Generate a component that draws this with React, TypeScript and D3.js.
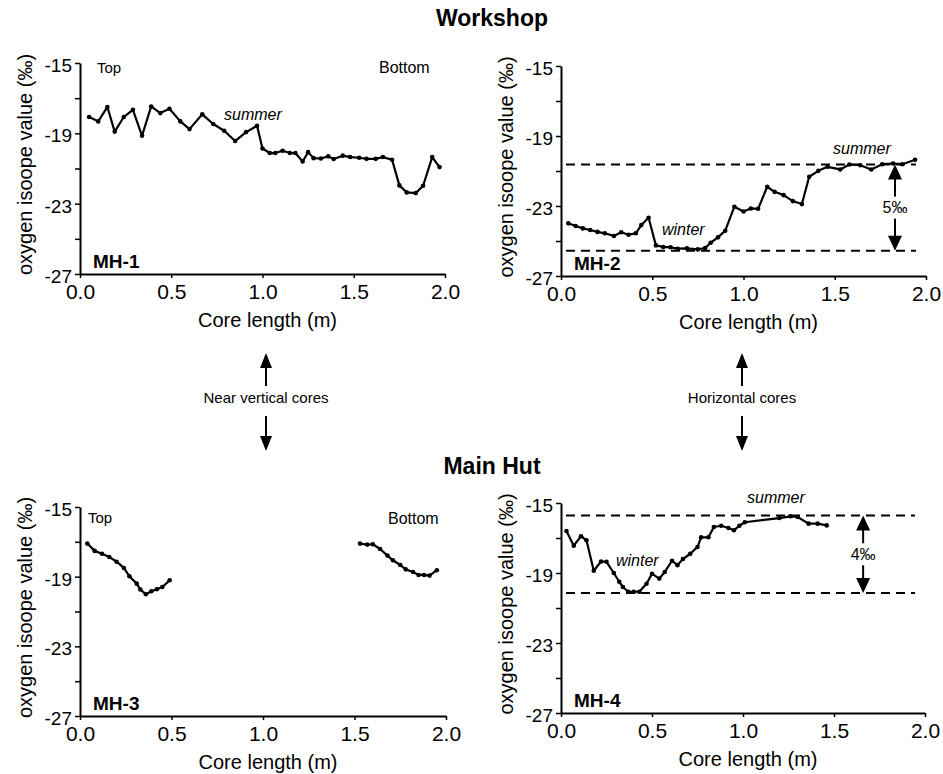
import React, { useEffect, useRef } from 'react';
import * as d3 from 'd3';

const mh1Depth = [0.05, 0.10, 0.15, 0.19, 0.24, 0.29, 0.34, 0.39, 0.44, 0.49, 0.55, 0.60, 0.67, 0.73, 0.79, 0.85, 0.91, 0.97, 1.00, 1.04, 1.07, 1.11, 1.15, 1.18, 1.22, 1.25, 1.28, 1.32, 1.36, 1.39, 1.44, 1.48, 1.53, 1.57, 1.62, 1.66, 1.71, 1.75, 1.79, 1.84, 1.88, 1.93, 1.97];
const mh1Value = [-18.07, -18.32, -17.5, -18.9, -18.07, -17.66, -19.14, -17.47, -17.85, -17.6, -18.32, -18.76, -17.92, -18.47, -18.85, -19.44, -18.93, -18.57, -19.86, -20.12, -20.12, -19.99, -20.12, -20.12, -20.6, -20.07, -20.41, -20.43, -20.31, -20.46, -20.27, -20.35, -20.39, -20.45, -20.45, -20.35, -20.5, -21.96, -22.36, -22.4, -21.98, -20.35, -20.92];

const mh2Depth = [0.04, 0.08, 0.12, 0.16, 0.20, 0.24, 0.29, 0.33, 0.37, 0.41, 0.44, 0.48, 0.52, 0.56, 0.60, 0.64, 0.69, 0.75, 0.79, 0.82, 0.86, 0.90, 0.95, 1.00, 1.04, 1.08, 1.13, 1.17, 1.22, 1.27, 1.32, 1.36, 1.41, 1.46, 1.53, 1.58, 1.64, 1.70, 1.76, 1.82, 1.87, 1.94];
const mh2Value = [-23.99, -24.14, -24.28, -24.37, -24.48, -24.56, -24.71, -24.5, -24.64, -24.56, -24.09, -23.67, -25.25, -25.34, -25.36, -25.44, -25.42, -25.48, -25.4, -25.1, -24.79, -24.41, -23.04, -23.31, -23.14, -23.16, -21.9, -22.19, -22.38, -22.72, -22.89, -21.33, -20.99, -20.76, -20.91, -20.63, -20.67, -20.91, -20.61, -20.57, -20.61, -20.36];

const mh3TopDepth = [0.04, 0.08, 0.12, 0.16, 0.20, 0.24, 0.27, 0.31, 0.33, 0.36, 0.39, 0.42, 0.45, 0.49];
const mh3TopValue = [-17.1, -17.52, -17.68, -17.87, -18.14, -18.5, -18.98, -19.4, -19.74, -20.01, -19.84, -19.72, -19.59, -19.21];
const mh3BottomDepth = [1.53, 1.57, 1.60, 1.64, 1.68, 1.71, 1.75, 1.78, 1.82, 1.85, 1.88, 1.91, 1.95];
const mh3BottomValue = [-17.1, -17.16, -17.14, -17.41, -17.79, -18.06, -18.33, -18.58, -18.73, -18.9, -18.9, -18.94, -18.63];

const mh4Depth = [0.03, 0.07, 0.11, 0.14, 0.18, 0.22, 0.25, 0.29, 0.32, 0.34, 0.37, 0.40, 0.43, 0.47, 0.50, 0.54, 0.57, 0.61, 0.64, 0.67, 0.71, 0.75, 0.77, 0.81, 0.84, 0.88, 0.92, 0.95, 0.98, 1.01, 1.20, 1.26, 1.30, 1.36, 1.41, 1.46];
const mh4Value = [-16.6, -17.44, -16.9, -17.13, -18.87, -18.34, -18.36, -19.0, -19.5, -19.8, -20.07, -20.07, -20.07, -19.61, -19.04, -19.32, -18.94, -18.3, -18.55, -18.2, -17.9, -17.51, -16.96, -16.96, -16.37, -16.3, -16.43, -16.56, -16.3, -16.1, -15.86, -15.76, -15.8, -16.18, -16.18, -16.28];

// summer / winter reference levels and where the range arrow sits
const mh2Range = [-20.63, -25.55];
const mh4Range = [-15.72, -20.14];

const yTicks = [-15, -17, -19, -21, -23, -25, -27];
const yLabelled = [-15, -19, -23, -27];
const xTicks = [0, 0.5, 1, 1.5, 2];

const FONT = "'Liberation Sans', Arial, Helvetica, sans-serif";

const App = () => {
  const chart = useRef<SVGSVGElement>(null);

  useEffect(() => {
    const svg = d3.select(chart.current);
    svg.selectAll('*').remove();
    svg.attr('font-family', FONT);

    const zip = (xs: number[], ys: number[]) => xs.map((d, i) => [d, ys[i]] as [number, number]);

    const panels = [
      {
        name: 'MH-1', x0: 80, x1: 445, y0: 63, y1: 274,
        series: [zip(mh1Depth, mh1Value)],
        notes: [
          { t: 'Top', dx: 17, dy: 10, size: 15 },
          { t: 'Bottom', dx: 299, dy: 10, size: 16 },
          { t: 'summer', dx: 144, dy: 57, size: 16, italic: true },
        ],
        range: null as null | { v: number[]; at: number; label: string },
      },
      {
        name: 'MH-2', x0: 561, x1: 926, y0: 66, y1: 276,
        series: [zip(mh2Depth, mh2Value)],
        notes: [
          { t: 'summer', dx: 272, dy: 88, size: 16, italic: true },
          { t: 'winter', dx: 101, dy: 169, size: 16, italic: true },
        ],
        range: { v: mh2Range, at: 1.83, label: '5‰' },
      },
      {
        name: 'MH-3', x0: 80, x1: 446, y0: 507, y1: 716,
        series: [zip(mh3TopDepth, mh3TopValue), zip(mh3BottomDepth, mh3BottomValue)],
        notes: [
          { t: 'Top', dx: 8, dy: 16, size: 15 },
          { t: 'Bottom', dx: 308, dy: 17, size: 16 },
        ],
        range: null,
      },
      {
        name: 'MH-4', x0: 561, x1: 925, y0: 503, y1: 713,
        series: [zip(mh4Depth, mh4Value)],
        notes: [
          { t: 'summer', dx: 186, dy: 0, size: 16, italic: true },
          { t: 'winter', dx: 55, dy: 63, size: 16, italic: true },
        ],
        range: { v: mh4Range, at: 1.66, label: '4‰' },
      },
    ];

    const arrow = (g: any, x: number, from: number, to: number, len = 15, half = 7) => {
      const dir = Math.sign(to - from);
      g.append('line')
        .attr('x1', x).attr('x2', x)
        .attr('y1', from).attr('y2', to - dir * (len - 2))
        .attr('stroke', '#000').attr('stroke-width', 2);
      g.append('path')
        .attr('d', `M${x},${to}L${x - half},${to - dir * len}L${x + half},${to - dir * len}Z`)
        .attr('fill', '#000');
    };

    panels.forEach((p) => {
      const x = d3.scaleLinear().domain([0, 2]).range([p.x0, p.x1]);
      const y = d3.scaleLinear().domain([-27, -15]).range([p.y1, p.y0]);
      const g = svg.append('g');

      // reference lines
      if (p.range) {
        p.range.v.forEach((v) => {
          g.append('line')
            .attr('x1', p.x0 + 5).attr('x2', p.x1 - 10)
            .attr('y1', y(v)).attr('y2', y(v))
            .attr('stroke', '#000').attr('stroke-width', 2)
            .attr('stroke-dasharray', '9,6');
        });
        const ax = x(p.range.at);
        const mid = (y(p.range.v[0]) + y(p.range.v[1])) / 2;
        arrow(g, ax, mid - 11, y(p.range.v[0]));
        arrow(g, ax, mid + 11, y(p.range.v[1]));
        g.append('text')
          .attr('x', ax).attr('y', mid).attr('dy', '0.35em')
          .attr('text-anchor', 'middle').attr('font-size', 16)
          .text(p.range.label);
      }

      // axes
      const ya = g.append('g')
        .attr('transform', `translate(${p.x0},0)`)
        .call(d3.axisLeft(y).tickValues(yTicks).tickSize(5).tickSizeOuter(0).tickPadding(3)
          .tickFormat((d: any) => (yLabelled.includes(d) ? String(d) : '')));
      ya.select('.domain').attr('stroke-width', 2);
      ya.selectAll('line').attr('stroke-width', 1.5);
      ya.selectAll('text').attr('font-size', 19).attr('font-family', FONT).attr('dy', '0.45em');

      const xa = g.append('g')
        .attr('transform', `translate(0,${p.y1})`)
        .call(d3.axisBottom(x).tickValues(xTicks).tickSize(4).tickSizeOuter(0).tickPadding(6)
          .tickFormat(d3.format('.1f')));
      xa.select('.domain').attr('stroke-width', 2);
      xa.selectAll('line').attr('stroke-width', 1.5);
      xa.selectAll('text').attr('font-size', 21).attr('font-family', FONT);

      // axis titles
      g.append('text')
        .attr('transform', `translate(${p.x0 - 48},${(p.y0 + p.y1) / 2 - 4}) rotate(-90)`)
        .attr('text-anchor', 'middle').attr('font-size', 20)
        .text('oxygen isoope value (‰)');
      g.append('text')
        .attr('x', (p.x0 + p.x1) / 2 + 5).attr('y', p.y1 + 53)
        .attr('text-anchor', 'middle').attr('font-size', 20)
        .text('Core length (m)');

      // series
      const line = d3.line<[number, number]>().x((d) => x(d[0])).y((d) => y(d[1]));
      p.series.forEach((s) => {
        g.append('path')
          .attr('d', line(s))
          .attr('fill', 'none').attr('stroke', '#000')
          .attr('stroke-width', 2.2).attr('stroke-linejoin', 'round');
        g.selectAll(null).data(s).enter().append('circle')
          .attr('cx', (d) => x(d[0])).attr('cy', (d) => y(d[1]))
          .attr('r', 2.3).attr('fill', '#000');
      });

      // labels
      p.notes.forEach((n) => {
        g.append('text')
          .attr('x', p.x0 + n.dx).attr('y', p.y0 + n.dy)
          .attr('font-size', n.size)
          .attr('font-style', n.italic ? 'italic' : 'normal')
          .text(n.t);
      });
      g.append('text')
        .attr('x', p.x0 + 13).attr('y', p.y1 - 6)
        .attr('font-size', 19).attr('font-weight', 'bold')
        .text(p.name);
    });

    // group titles
    svg.append('text').attr('x', 492).attr('y', 26)
      .attr('text-anchor', 'middle').attr('font-size', 23).attr('font-weight', 'bold')
      .text('Workshop');
    svg.append('text').attr('x', 492).attr('y', 474)
      .attr('text-anchor', 'middle').attr('font-size', 23).attr('font-weight', 'bold')
      .text('Main Hut');

    // core orientation arrows between rows
    const mid = svg.append('g');
    [{ x: 266, t: 'Near vertical cores' }, { x: 742, t: 'Horizontal cores' }].forEach((c) => {
      arrow(mid, c.x, 386, 353, 15, 6);
      mid.append('text').attr('x', c.x).attr('y', 398).attr('dy', '0.35em')
        .attr('text-anchor', 'middle').attr('font-size', 15).text(c.t);
      arrow(mid, c.x, 416, 451, 15, 6);
    });
  }, []);

  return (
    <svg ref={chart} width={943} height={774}
      style={{ position: 'absolute', left: 0, top: 0, background: '#fff' }} />
  );
};

export default App;
